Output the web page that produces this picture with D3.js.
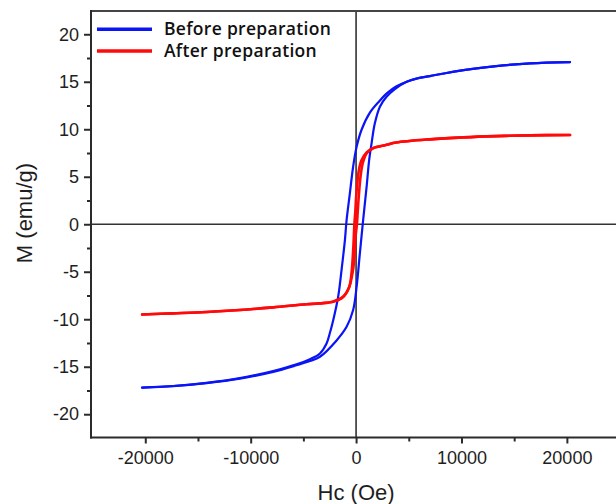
<!DOCTYPE html>
<html>
<head>
<meta charset="utf-8">
<script src="https://cdn.jsdelivr.net/npm/d3@7/dist/d3.min.js"></script>
<style>
html,body{margin:0;padding:0;background:#fff;}
svg{display:block;}
</style>
</head>
<body>
<svg id="chart" width="616" height="504"></svg>
<script>
// ---- Data ----
const seriesNames = ["Before preparation", "After preparation"];
const seriesColors = ["#0a14f5", "#ff0a0a"];

// Blue: descending branch (field +20 kOe -> -20 kOe)
const blueDescH = [20300, 16500, 13300, 10200, 7000, 5800, 4800, 3800, 3000, 2200, 1310, 520, 50, -280, -590, -900, -1060, -1380, -1700, -2170, -2500, -2800, -3430, -4380, -5650, -7870, -11030, -14190, -17350, -20300];
const blueDescM = [17.07, 16.94, 16.65, 16.23, 15.6, 15.35, 15.0, 14.5, 13.85, 12.95, 11.75, 9.95, 8.15, 6.05, 3.25, 0.44, -1.66, -4.82, -7.63, -10.1, -11.5, -12.55, -13.6, -14.2, -14.75, -15.45, -16.2, -16.7, -17.03, -17.2];
// Blue: ascending branch (field -20 kOe -> +20 kOe)
const blueAscH = [-20300, -17350, -14190, -11030, -7870, -5650, -4380, -3430, -1850, -900, -280, 50, 360, 670, 1000, 1240, 1470, 1780, 2260, 2890, 3680, 4800, 5800, 7000, 10200, 13300, 16500, 20300];
const blueAscM = [-17.2, -17.05, -16.72, -16.25, -15.55, -14.85, -14.4, -13.95, -12.23, -10.8, -9.03, -6.58, -3.06, 0.44, 3.95, 6.76, 8.52, 10.62, 12.37, 13.42, 14.23, 15.0, 15.35, 15.6, 16.23, 16.65, 16.94, 17.07];

// Red: descending branch
const redDescH = [20300, 16500, 13300, 10200, 7000, 3800, 2900, 1600, 1000, 500, 250, 40, -80, -160, -260, -420, -650, -1220, -2170, -3430, -4700, -7870, -11030, -14190, -17350, -20300];
const redDescM = [9.4, 9.36, 9.28, 9.15, 8.94, 8.6, 8.36, 8.0, 7.55, 6.7, 5.6, 3.4, 1.2, 0.0, -2.4, -5.0, -6.6, -7.65, -8.16, -8.33, -8.42, -8.75, -9.03, -9.24, -9.38, -9.5];
// Red: ascending branch
const redAscH = [-20300, -17350, -14190, -11030, -7870, -4700, -3430, -2170, -1220, -650, -420, -260, -160, -40, 80, 160, 260, 420, 650, 1000, 1600, 2900, 3800, 7000, 10200, 13300, 16500, 20300];
const redAscM = [-9.5, -9.38, -9.24, -9.03, -8.75, -8.42, -8.33, -8.12, -7.6, -6.6, -5.6, -4.6, -3.4, -1.2, 0.0, 1.4, 3.0, 5.0, 6.5, 7.46, 8.0, 8.36, 8.6, 8.94, 9.15, 9.28, 9.36, 9.4];

const xMajorTicks = [-20000, -10000, 0, 10000, 20000];
const xMinorTicks = [-15000, -5000, 5000, 15000];
const yMajorTicks = [-20, -15, -10, -5, 0, 5, 10, 15, 20];
const yMinorTicks = [-17.5, -12.5, -7.5, -2.5, 2.5, 7.5, 12.5, 17.5];
const xTitle = "Hc (Oe)";
const yTitle = "M (emu/g)";

// ---- Layout ----
const svg = d3.select("#chart");
const pLeft = 91, pTop = 11, pBottom = 437.5, pRight = 616;
const x = d3.scaleLinear().domain([-25150, 25150]).range([pLeft, pLeft + 50300 * 0.01054]);
const y = d3.scaleLinear().domain([-22.45, 22.45]).range([pBottom, pTop]);

const axisColor = "#2b2b2b";
const tickFont = "'Liberation Sans', Arial, sans-serif";
const fmt = d => String(d);

// Zero lines
svg.append("line").attr("x1", pLeft).attr("x2", pRight).attr("y1", y(0)).attr("y2", y(0))
  .attr("stroke", "#333").attr("stroke-width", 1.6);
svg.append("line").attr("x1", x(0)).attr("x2", x(0)).attr("y1", pTop).attr("y2", pBottom)
  .attr("stroke", "#333").attr("stroke-width", 1.6);

// Curves
const line = d3.line().x(d => x(d[0])).y(d => y(d[1])).curve(d3.curveCatmullRom.alpha(0.5));
function branch(H, M) { return H.map((h, i) => [h, M[i]]); }
const loops = [
  [branch(blueDescH, blueDescM), branch(blueAscH, blueAscM)],
  [branch(redDescH, redDescM), branch(redAscH, redAscM)]
];
const widths = [2.2, 2.6];
loops.forEach((lp, si) => {
  lp.forEach(b => {
    svg.append("path").attr("d", line(b)).attr("fill", "none")
      .attr("stroke", seriesColors[si]).attr("stroke-width", widths[si])
      .attr("stroke-linejoin", "round").attr("stroke-linecap", "round");
  });
});

// Frame
svg.append("line").attr("x1", pLeft).attr("x2", pRight + 10).attr("y1", pTop).attr("y2", pTop)
  .attr("stroke", "#444").attr("stroke-width", 2.2);
svg.append("line").attr("x1", pLeft).attr("x2", pLeft).attr("y1", pTop - 1).attr("y2", pBottom + 1)
  .attr("stroke", axisColor).attr("stroke-width", 2);
svg.append("line").attr("x1", pLeft - 1).attr("x2", pRight + 10).attr("y1", pBottom).attr("y2", pBottom)
  .attr("stroke", axisColor).attr("stroke-width", 2);

// Y axis ticks
const yAxis = d3.axisLeft(y).tickValues(yMajorTicks).tickSize(7).tickPadding(5).tickFormat(fmt);
const gy = svg.append("g").attr("transform", `translate(${pLeft},0)`).call(yAxis);
gy.select(".domain").remove();
gy.selectAll(".tick line").attr("stroke", axisColor).attr("stroke-width", 2);
gy.selectAll(".tick text").attr("font-family", tickFont).attr("font-size", 18).attr("fill", "#1e1e1e");
const yMinor = d3.axisLeft(y).tickValues(yMinorTicks).tickSize(4).tickFormat("");
const gym = svg.append("g").attr("transform", `translate(${pLeft},0)`).call(yMinor);
gym.select(".domain").remove();
gym.selectAll(".tick line").attr("stroke", axisColor).attr("stroke-width", 2);

// X axis ticks
const xAxis = d3.axisBottom(x).tickValues(xMajorTicks).tickSize(6).tickPadding(8).tickFormat(fmt);
const gx = svg.append("g").attr("transform", `translate(0,${pBottom})`).call(xAxis);
gx.select(".domain").remove();
gx.selectAll(".tick line").attr("stroke", axisColor).attr("stroke-width", 2);
gx.selectAll(".tick text").attr("font-family", tickFont).attr("font-size", 18).attr("fill", "#1e1e1e");
const xMinor = d3.axisBottom(x).tickValues(xMinorTicks).tickSize(4).tickFormat("");
const gxm = svg.append("g").attr("transform", `translate(0,${pBottom})`).call(xMinor);
gxm.select(".domain").remove();
gxm.selectAll(".tick line").attr("stroke", axisColor).attr("stroke-width", 2);

// Axis titles
svg.append("text").attr("x", x(0)).attr("y", 500).attr("text-anchor", "middle")
  .attr("font-family", tickFont).attr("font-size", 22).attr("fill", "#1e1e1e").text(xTitle);
svg.append("text").attr("transform", "translate(32,213) rotate(-90)").attr("text-anchor", "middle")
  .attr("font-family", tickFont).attr("font-size", 22).attr("fill", "#1e1e1e").text(yTitle);

// Legend
const legY = [29.3, 51];
seriesNames.forEach((n, i) => {
  svg.append("line").attr("x1", 97).attr("x2", 152).attr("y1", legY[i]).attr("y2", legY[i])
    .attr("stroke", seriesColors[i]).attr("stroke-width", 3.5);
  svg.append("text").attr("x", 164).attr("y", legY[i] + 6).attr("font-family", "'Open Sans', sans-serif")
    .attr("font-weight", 600).attr("font-size", 17.5).attr("letter-spacing", 0.3)
    .attr("fill", "#111").text(n);
});
</script>
</body>
</html>
